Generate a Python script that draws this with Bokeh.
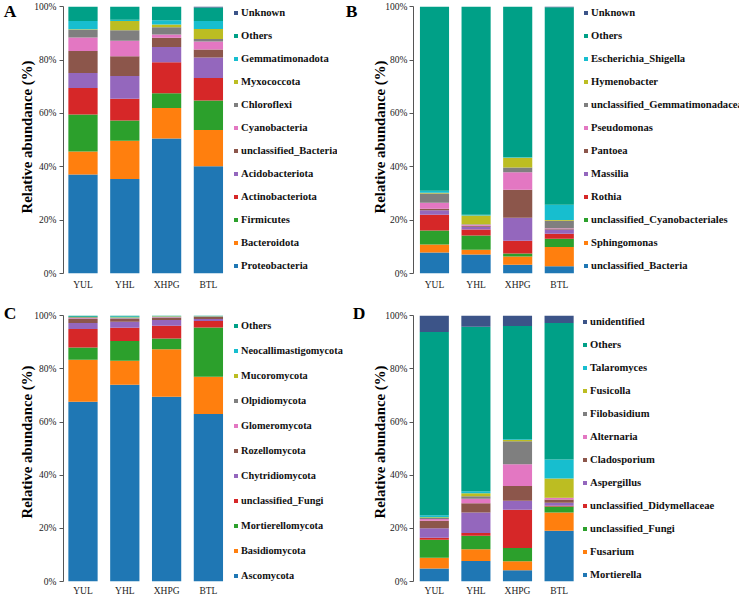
from bokeh.plotting import figure
from bokeh.models import ColumnDataSource, Legend, LegendItem, FixedTicker, Range1d, LinearAxis
from bokeh.layouts import column, row
from bokeh.embed import file_html
from bokeh.resources import INLINE

samples = ["YUL", "YHL", "XHPG", "BTL"]
y_ticks = [0, 20, 40, 60, 80, 100]
y_tick_labels = ["0%", "20%", "40%", "60%", "80%", "100%"]

# Panel A: bacterial phyla (bottom -> top), values per sample YUL, YHL, XHPG, BTL
a_taxa = ["Proteobacteria", "Bacteroidota", "Firmicutes", "Actinobacteriota", "Acidobacteriota",
          "unclassified_Bacteria", "Cyanobacteria", "Chloroflexi", "Myxococcota",
          "Gemmatimonadota", "Others", "Unknown"]
a_vals = {
    "Proteobacteria":        [37.1, 35.4, 50.6, 40.25],
    "Bacteroidota":          [8.6, 14.4, 11.5, 13.6],
    "Firmicutes":            [13.9, 7.6, 5.5, 11.0],
    "Actinobacteriota":      [10.0, 8.1, 11.6, 8.5],
    "Acidobacteriota":       [5.6, 8.6, 5.75, 7.6],
    "unclassified_Bacteria": [8.25, 7.4, 3.4, 3.0],
    "Cyanobacteria":         [5.0, 5.75, 1.25, 3.0],
    "Chloroflexi":           [2.9, 4.0, 2.75, 1.0],
    "Myxococcota":           [0.25, 3.4, 1.0, 3.75],
    "Gemmatimonadota":       [3.1, 0.5, 1.6, 3.0],
    "Others":                [5.3, 4.85, 5.05, 5.0],
    "Unknown":               [0.0, 0.0, 0.0, 0.3],
}

# Panel B: bacterial genera
b_taxa = ["unclassified_Bacteria", "Sphingomonas", "unclassified_Cyanobacteriales", "Rothia",
          "Massilia", "Pantoea", "Pseudomonas", "unclassified_Gemmatimonadaceae",
          "Hymenobacter", "Escherichia_Shigella", "Others", "Unknown"]
b_vals = {
    "unclassified_Bacteria":          [7.9, 7.1, 3.25, 2.75],
    "Sphingomonas":                   [3.0, 1.8, 3.15, 7.15],
    "unclassified_Cyanobacteriales":  [5.2, 5.35, 1.1, 3.1],
    "Rothia":                         [5.9, 2.25, 4.75, 1.9],
    "Massilia":                       [1.75, 1.0, 8.65, 1.6],
    "Pantoea":                        [0.5, 0.4, 10.5, 0.25],
    "Pseudomonas":                    [2.25, 0.35, 6.6, 0.25],
    "unclassified_Gemmatimonadaceae": [3.5, 0.25, 1.75, 2.75],
    "Hymenobacter":                   [0.25, 3.25, 3.65, 0.35],
    "Escherichia_Shigella":           [0.75, 0.25, 0.2, 5.65],
    "Others":                         [69.0, 78.0, 56.4, 74.1],
    "Unknown":                        [0.0, 0.0, 0.0, 0.15],
}

# Panel C: fungal phyla
c_taxa = ["Ascomycota", "Basidiomycota", "Mortierellomycota", "unclassified_Fungi",
          "Chytridiomycota", "Rozellomycota", "Glomeromycota", "Olpidiomycota",
          "Mucoromycota", "Neocallimastigomycota", "Others"]
c_vals = {
    "Ascomycota":            [67.6, 74.0, 69.5, 63.0],
    "Basidiomycota":         [15.8, 9.1, 17.9, 14.0],
    "Mortierellomycota":     [4.7, 7.4, 4.0, 18.6],
    "unclassified_Fungi":    [6.9, 5.0, 4.85, 2.4],
    "Chytridiomycota":       [2.25, 2.25, 2.15, 0.75],
    "Rozellomycota":         [1.5, 1.0, 0.85, 0.75],
    "Glomeromycota":         [0.35, 0.25, 0.15, 0.1],
    "Olpidiomycota":         [0.3, 0.25, 0.2, 0.1],
    "Mucoromycota":          [0.1, 0.15, 0.25, 0.1],
    "Neocallimastigomycota": [0.1, 0.35, 0.05, 0.05],
    "Others":                [0.4, 0.25, 0.1, 0.15],
}

# Panel D: fungal genera
d_taxa = ["Mortierella", "Fusarium", "unclassified_Fungi", "unclassified_Didymellaceae",
          "Aspergillus", "Cladosporium", "Alternaria", "Filobasidium", "Fusicolla",
          "Talaromyces", "Others", "unidentified"]
d_vals = {
    "Mortierella":                [4.9, 7.75, 4.25, 19.1],
    "Fusarium":                   [4.0, 4.35, 3.35, 6.9],
    "unclassified_Fungi":         [6.85, 5.15, 5.0, 2.25],
    "unclassified_Didymellaceae": [0.75, 1.0, 14.4, 0.25],
    "Aspergillus":                [3.5, 7.75, 3.4, 1.1],
    "Cladosporium":               [2.9, 3.4, 5.5, 1.3],
    "Alternaria":                 [0.6, 1.7, 8.2, 0.5],
    "Filobasidium":               [0.4, 1.0, 8.65, 0.1],
    "Fusicolla":                  [0.25, 1.15, 0.5, 7.25],
    "Talaromyces":                [0.75, 0.75, 0.25, 7.15],
    "Others":                     [69.0, 61.9, 42.6, 51.35],
    "unidentified":               [6.1, 4.1, 3.9, 2.75],
}

palette12 = ["#1f77b4", "#ff7f0e", "#2ca02c", "#d62728", "#9467bd", "#8c564b",
             "#e377c2", "#7f7f7f", "#bcbd22", "#17becf", "#00a087", "#3c5488"]
palette11 = palette12[:10] + ["#00a087"]

SERIF = "Liberation Serif"
PX_PER_PCT = 2.667


def make_panel(letter, taxa, vals, colors, fig_w, fig_h, b_left, frame_h, b_bottom,
               px_cat, first_off, letter_top, letter_standoff, tick_standoff,
               y_label_standoff, x_label_standoff, leg_x, leg_y, leg_spacing, leg_font):
    frame_w = fig_w - b_left
    x0 = -first_off / px_cat
    x1 = x0 + frame_w / px_cat
    y1 = frame_h / PX_PER_PCT
    p = figure(width=fig_w, height=fig_h, output_backend="svg", toolbar_location=None,
               x_range=Range1d(x0, x1), y_range=Range1d(0, y1),
               min_border_left=b_left, min_border_right=0, min_border_top=0,
               min_border_bottom=b_bottom)
    p.outline_line_color = None
    p.xgrid.visible = False
    p.ygrid.visible = False
    data = {"x": list(range(len(samples)))}
    for t in taxa:
        data[t] = vals[t]
    src = ColumnDataSource(data)
    rs = p.vbar_stack(taxa, x="x", width=0.7, color=colors, line_color=None, source=src)

    yax = p.yaxis[0]
    yax.bounds = (y_ticks[0], y_ticks[-1])
    yax.ticker = FixedTicker(ticks=y_ticks)
    yax.major_label_overrides = {t: l for t, l in zip(y_ticks, y_tick_labels)}
    yax.minor_tick_line_color = None
    yax.major_tick_out = 4
    yax.major_tick_in = 0
    yax.axis_line_color = "#555555"
    yax.major_tick_line_color = "#555555"
    yax.major_label_text_font = SERIF
    yax.major_label_text_font_size = "9.5px"
    yax.major_label_text_color = "#222222"
    yax.major_label_standoff = tick_standoff
    yax.axis_label = "Relative abundance (%)"
    yax.axis_label_text_font = SERIF
    yax.axis_label_text_font_style = "bold"
    yax.axis_label_text_font_size = "14.8px"
    yax.axis_label_text_color = "#000000"
    yax.axis_label_standoff = y_label_standoff

    # panel letter, shown as the single tick label of an outer left axis
    letter_y = (frame_h - letter_top) / PX_PER_PCT
    lax = LinearAxis(ticker=FixedTicker(ticks=[letter_y]),
                     major_label_overrides={letter_y: letter},
                     axis_line_color=None, major_tick_line_color=None,
                     minor_tick_line_color=None, major_tick_out=0, major_tick_in=0,
                     major_label_standoff=letter_standoff,
                     major_label_text_font=SERIF, major_label_text_font_style="bold",
                     major_label_text_font_size="17.5px", major_label_text_color="#000000")
    p.add_layout(lax, "left")

    xax = p.xaxis[0]
    xax.ticker = FixedTicker(ticks=list(range(len(samples))))
    xax.major_label_overrides = {i: s for i, s in enumerate(samples)}
    xax.axis_line_color = None
    xax.major_tick_line_color = None
    xax.minor_tick_line_color = None
    xax.major_tick_out = 0
    xax.major_tick_in = 0
    xax.major_label_text_font = SERIF
    xax.major_label_text_font_size = "9.5px"
    xax.major_label_text_color = "#222222"
    xax.major_label_standoff = x_label_standoff

    items = [LegendItem(label=t, renderers=[r]) for t, r in zip(taxa, rs)][::-1]
    leg = Legend(items=items, location=(leg_x, leg_y), orientation="vertical",
                 padding=0, margin=0, spacing=leg_spacing, label_height=14,
                 glyph_height=5, glyph_width=5, label_standoff=3,
                 label_text_font=SERIF, label_text_font_style="bold",
                 label_text_font_size=leg_font, label_text_color="#111111",
                 border_line_color=None, background_fill_alpha=0)
    p.add_layout(leg)
    return p


pA = make_panel("A", a_taxa, a_vals, palette12, 337, 302, 63, 273, 29,
                41.8, 19.5, 10.9, 0, 3, -4, 6, 170, 0.8, 9, "10.6px")
pB = make_panel("B", b_taxa, b_vals, palette12, 402, 302, 76, 273, 29,
                41.6, 21, 10.9, 12, 2, -6, 6, 170, 0.8, 9, "10.6px")
pC = make_panel("C", c_taxa, c_vals, palette11, 349, 296, 63, 280, 16,
                41.8, 19.5, 9.7, 0, 3, -4, 4, 170, -1, 11, "10.3px")
pD = make_panel("D", d_taxa, d_vals, palette12, 390, 296, 64, 280, 16,
                41.6, 20.8, 9.7, 4, 2, -6, 4, 169, 0, 9, "10.6px")

layout = column(row(pA, pB, spacing=0), row(pC, pD, spacing=0), spacing=0)
open("out.html", "w").write(file_html(layout, INLINE))
